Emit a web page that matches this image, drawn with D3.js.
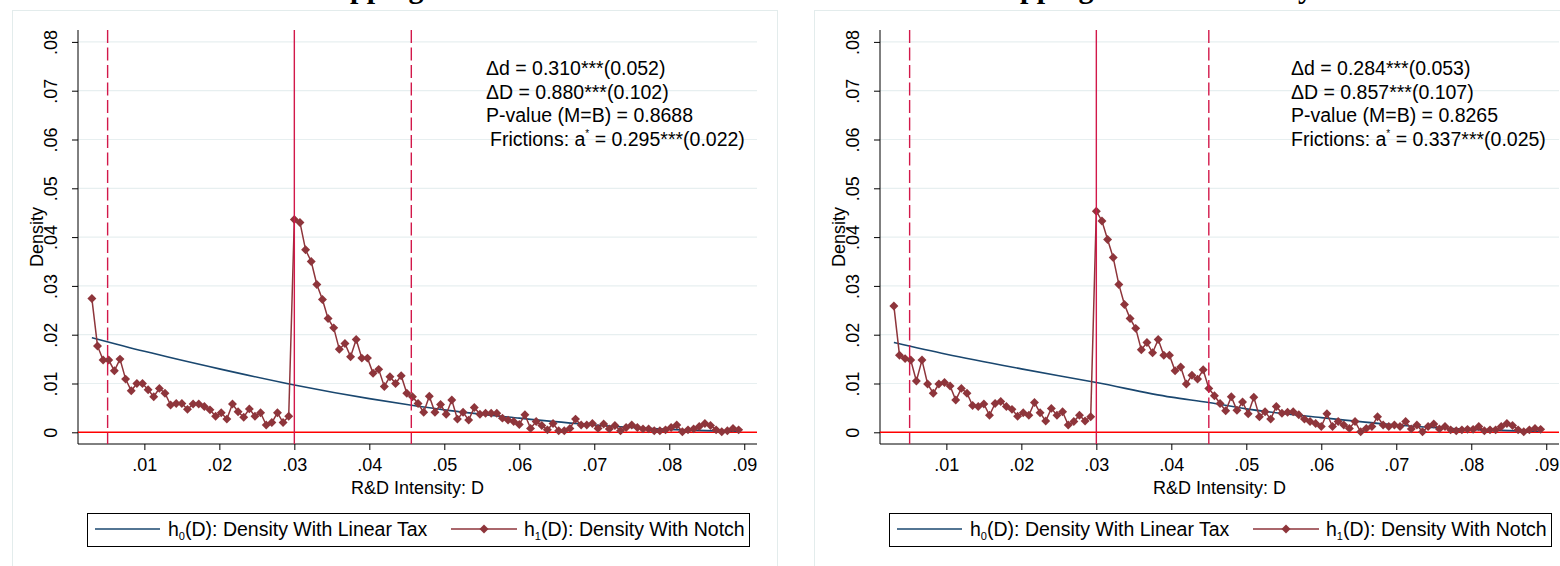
<!DOCTYPE html>
<html><head><meta charset="utf-8">
<script src="https://cdn.jsdelivr.net/npm/d3@7"></script>
<style>body{margin:0;background:#fff;}svg{display:block;font-family:"Liberation Sans",Arial,sans-serif;}</style>
</head><body>
<script>
// ---- data ----
const binX = [0.003,0.00375,0.0045,0.00525,0.006,0.00675,0.0075,0.00825,0.009,0.00975,
0.0105,0.01125,0.012,0.01275,0.0135,0.01425,0.015,0.01575,0.0165,0.01725,
0.018,0.01875,0.0195,0.02025,0.021,0.02175,0.0225,0.02325,0.024,0.02475,
0.0255,0.02625,0.027,0.02775,0.0285,0.02925,0.03,0.03075,0.0315,0.03225,
0.033,0.03375,0.0345,0.03525,0.036,0.03675,0.0375,0.03825,0.039,0.03975,
0.0405,0.04125,0.042,0.04275,0.0435,0.04425,0.045,0.04575,0.0465,0.04725,
0.048,0.04875,0.0495,0.05025,0.051,0.05175,0.0525,0.05325,0.054,0.05475,
0.0555,0.05625,0.057,0.05775,0.0585,0.05925,0.06,0.06075,0.0615,0.06225,
0.063,0.06375,0.0645,0.06525,0.066,0.06675,0.0675,0.06825,0.069,0.06975,
0.0705,0.07125,0.072,0.07275,0.0735,0.07425,0.075,0.07575,0.0765,0.07725,
0.078,0.07875,0.0795,0.08025,0.081,0.08175,0.0825,0.08325,0.084,0.08475,
0.0855,0.08625,0.087,0.08775,0.0885,0.08925];

const h1Left = [0.0274,0.0177,0.0148,0.0148,0.0126,0.0150,0.0109,0.0085,0.0100,0.0100,
0.0087,0.0073,0.0090,0.0080,0.0056,0.0059,0.0059,0.0047,0.0058,0.0058,
0.0053,0.0046,0.0033,0.0040,0.0027,0.0058,0.0042,0.0031,0.0048,0.0033,
0.0040,0.0015,0.0020,0.0040,0.0020,0.0033,
0.0436,0.0430,0.0374,0.0350,0.0303,0.0272,0.0233,0.0214,0.0170,0.0182,
0.0155,0.0190,0.0152,0.0152,0.0121,0.0129,0.0094,0.0114,0.0100,0.0116,
0.0080,0.0073,0.0059,0.0041,0.0074,0.0041,0.0057,0.0037,0.0066,0.0027,
0.0041,0.0025,0.0051,0.0037,0.0039,0.0039,0.0039,0.0029,0.0025,0.0022,
0.0016,0.0036,0.0008,0.0022,0.0014,0.0005,0.0018,0.0003,0.0003,0.0008,
0.0027,0.0015,0.0015,0.0018,0.0008,0.0017,0.0007,0.0014,0.0003,0.0010,
0.0015,0.0010,0.0007,0.0007,0.0003,0.0003,0.0005,0.0010,0.0015,0.0001,
0.0005,0.0007,0.0012,0.0018,0.0014,0.0005,0.0001,0.0003,0.0008,0.0005];

const h1Right = [0.0259,0.0158,0.0151,0.0148,0.0105,0.0148,0.0099,0.0080,0.0099,0.0102,
0.0095,0.0066,0.0090,0.0080,0.0055,0.0053,0.0058,0.0035,0.0059,0.0063,
0.0053,0.0047,0.0033,0.0040,0.0035,0.0061,0.0040,0.0023,0.0049,0.0035,
0.0042,0.0015,0.0022,0.0035,0.0023,0.0032,
0.0453,0.0433,0.0395,0.0358,0.0303,0.0262,0.0233,0.0213,0.0169,0.0184,
0.0163,0.0190,0.0158,0.0158,0.0126,0.0134,0.0099,0.0117,0.0109,0.0128,
0.0090,0.0075,0.0059,0.0044,0.0073,0.0045,0.0062,0.0038,0.0072,0.0032,
0.0042,0.0027,0.0053,0.0039,0.0041,0.0042,0.0036,0.0027,0.0022,0.0018,
0.0012,0.0038,0.0012,0.0022,0.0015,0.0008,0.0022,0.0001,0.0008,0.0012,
0.0032,0.0015,0.0012,0.0015,0.0012,0.0022,0.0007,0.0015,0.0001,0.0012,
0.0017,0.0007,0.0012,0.0005,0.0003,0.0005,0.0006,0.0006,0.0012,0.0003,
0.0005,0.0005,0.0012,0.0018,0.0014,0.0005,0.0001,0.0005,0.0008,0.0006];

const h0X = [0.003,0.010,0.020,0.030,0.040,0.045,0.050,0.060,0.070,0.080,0.089];
const h0Left  = [0.0194,0.0166,0.0130,0.0097,0.0069,0.0057,0.0046,0.0029,0.0015,0.0006,0.0002];
const h0Right = [0.0184,0.0160,0.0130,0.0102,0.0072,0.0061,0.0048,0.0030,0.0015,0.0006,0.0002];

const xTicks = [0.01,0.02,0.03,0.04,0.05,0.06,0.07,0.08,0.09];
const xTickLabels = [".01",".02",".03",".04",".05",".06",".07",".08",".09"];
const yTicks = [0,0.01,0.02,0.03,0.04,0.05,0.06,0.07,0.08];
const yTickLabels = ["0",".01",".02",".03",".04",".05",".06",".07",".08"];

const notchLeft = [0.0051, 0.030, 0.0456];
const notchRight = [0.0051, 0.030, 0.0450];

const statsLeft = ["Δd = 0.310***(0.052)","ΔD = 0.880***(0.102)","P-value (M=B) = 0.8688",["Frictions: a","*"," = 0.295***(0.022)"]];
const statsRight = ["Δd = 0.284***(0.053)","ΔD = 0.857***(0.107)","P-value (M=B) = 0.8265",["Frictions: a","*"," = 0.337***(0.025)"]];

const titles = ["A. Notch Mapping: Baseline","B. Notch Mapping: Whole Industry"];
const xTitle = "R&D Intensity: D";
const yTitle = "Density";
const legendLabels = [["h","0","(D): Density With Linear Tax"],["h","1","(D): Density With Notch"]];

// ---- drawing ----
const W = 1560, H = 566;
const svg = d3.select("body").append("svg").attr("width", W).attr("height", H);

const NAVY = "#1a476f", MAROON = "#8e353b", VRED = "#d2184a", ZRED = "#ff0000", GRID = "#e7eff0";

function panel(ox, h1, h0, notch, stats, title, statsX, fricDx, pp) {
  const g = svg.append("g");
  // panel border
  g.append("rect").attr("x", ox + 12.5).attr("y", 10.5).attr("width", 765).attr("height", 600)
    .attr("fill", "#fff").attr("stroke", "#e3ecec").attr("stroke-width", 1);

  const x = d3.scaleLinear().domain([0.00115, 0.0917]).range([ox + 78, ox + 757]);
  const y = d3.scaleLinear().domain([0, 0.08]).range([432.3, 41.9]);
  const yTop = 30, yBot = 444;

  // gridlines
  g.selectAll("line.grid").data(yTicks.filter(d => d > 0)).enter().append("line")
    .attr("x1", x.range()[0]).attr("x2", x.range()[1])
    .attr("y1", d => y(d)).attr("y2", d => y(d))
    .attr("stroke", GRID).attr("stroke-width", 1.2);

  // axes
  const yAxis = d3.axisLeft(y).tickValues(yTicks).tickFormat((d, i) => yTickLabels[i]).tickSize(6).tickPadding(3);
  const ya = g.append("g").attr("transform", `translate(${x.range()[0]},0)`).call(yAxis);
  ya.select(".domain").remove();
  ya.append("line").attr("x1", 0).attr("x2", 0).attr("y1", yTop).attr("y2", yBot).attr("stroke", "#000");
  ya.selectAll(".tick line").attr("stroke", "#000");
  ya.selectAll(".tick text").attr("font-size", 18).attr("fill", "#000")
    .attr("text-anchor", "middle").attr("transform", "rotate(-90)").attr("x", 0).attr("y", -21).attr("dy", 0);

  const xAxis = d3.axisBottom(x).tickValues(xTicks).tickFormat((d, i) => xTickLabels[i]).tickSize(6).tickPadding(3);
  const xa = g.append("g").attr("transform", `translate(0,${yBot})`).call(xAxis);
  xa.select(".domain").remove();
  xa.append("line").attr("x1", x.range()[0]).attr("x2", x.range()[1]).attr("y1", 0).attr("y2", 0).attr("stroke", "#000");
  xa.selectAll(".tick line").attr("stroke", "#000");
  xa.selectAll(".tick text").attr("font-size", 18).attr("fill", "#000").attr("dy", 0).attr("y", 27);

  g.append("text").attr("x", (x.range()[0] + x.range()[1]) / 2).attr("y", 494)
    .attr("text-anchor", "middle").attr("font-size", 18).text(xTitle);
  g.append("text").attr("transform", `translate(${ox + 43},237) rotate(-90)`)
    .attr("text-anchor", "middle").attr("font-size", 18).text(yTitle);

  // zero line
  g.append("line").attr("x1", x.range()[0]).attr("x2", x.range()[1]).attr("y1", y(0)).attr("y2", y(0))
    .attr("stroke", ZRED).attr("stroke-width", 1.6);

  // h0
  const h0Line = d3.line().x((d, i) => x(h0X[i])).y(d => y(d)).curve(d3.curveMonotoneX);
  g.append("path").attr("d", h0Line(h0)).attr("fill", "none").attr("stroke", NAVY).attr("stroke-width", 1.6);

  // h1
  const h1Line = d3.line().x((d, i) => x(binX[i])).y(d => y(d));
  g.append("path").attr("d", h1Line(h1)).attr("fill", "none").attr("stroke", MAROON).attr("stroke-width", 1.5);
  const sym = d3.symbol(d3.symbolSquare, 40);
  g.selectAll("path.dia").data(h1).enter().append("path")
    .attr("d", sym).attr("transform", (d, i) => `translate(${x(binX[i])},${y(d)}) rotate(45)`)
    .attr("fill", MAROON);

  // vertical lines
  notch.forEach((v, i) => {
    g.append("line").attr("x1", x(v)).attr("x2", x(v)).attr("y1", yTop).attr("y2", yBot)
      .attr("stroke", VRED).attr("stroke-width", 1.4)
      .attr("stroke-dasharray", i === 1 ? null : "13,4.5");
  });

  // stats text
  const base = [75, 98.5, 122, 145.5];
  stats.forEach((s, i) => {
    const t = g.append("text").attr("x", ox + statsX + (i === 3 ? fricDx : 0)).attr("y", base[i]).attr("font-size", 19.5).attr("fill", "#000");
    if (Array.isArray(s)) {
      t.append("tspan").text(s[0]);
      t.append("tspan").attr("font-size", 10).attr("dy", -9).text(s[1]);
      t.append("tspan").attr("dy", 9).text(s[2]);
    } else t.text(s);
  });

  // title (mostly above the visible area)
  const tt = g.append("text").attr("y", -2).attr("font-family", "Liberation Serif, serif")
    .attr("font-weight", "bold").attr("font-size", 30).attr("fill", "#000").text(title);
  const idx = title.indexOf("pp");
  const off = tt.node().getSubStringLength(0, idx);
  tt.attr("x", pp - off);

  // legend
  const lg = g.append("g");
  lg.append("rect").attr("x", ox + 87.5).attr("y", 513.5).attr("width", 662).attr("height", 33)
    .attr("fill", "#fff").attr("stroke", "#000").attr("stroke-width", 1);
  lg.append("line").attr("x1", ox + 95).attr("x2", ox + 160).attr("y1", 529).attr("y2", 529)
    .attr("stroke", NAVY).attr("stroke-width", 1.6);
  lg.append("line").attr("x1", ox + 451).attr("x2", ox + 517).attr("y1", 529).attr("y2", 529)
    .attr("stroke", MAROON).attr("stroke-width", 1.5);
  lg.append("path").attr("d", sym).attr("transform", `translate(${ox + 484},529) rotate(45)`).attr("fill", MAROON);
  [[ox + 168, legendLabels[0]], [ox + 524, legendLabels[1]]].forEach(([lx, lab]) => {
    const t = lg.append("text").attr("x", lx).attr("y", 536).attr("font-size", 19.5).attr("fill", "#000");
    t.append("tspan").text(lab[0]);
    t.append("tspan").attr("font-size", 11).attr("dy", 4).text(lab[1]);
    t.append("tspan").attr("dy", -4).text(lab[2]);
  });
}

panel(0, h1Left, h0Left, notchLeft, statsLeft, titles[0], 486, 4, 350);
panel(802, h1Right, h0Right, notchRight, statsRight, titles[1], 489, 0, 1020);
</script>
</body></html>
